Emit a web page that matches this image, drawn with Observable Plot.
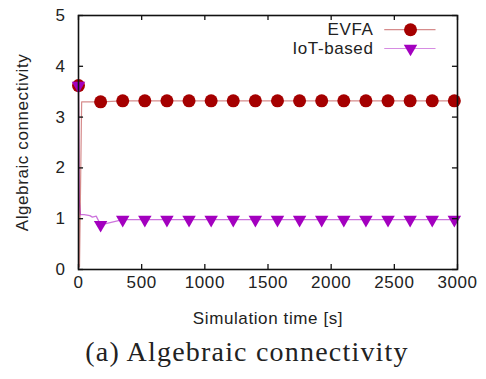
<!DOCTYPE html>
<html>
<head>
<meta charset="utf-8">
<script src="https://cdn.jsdelivr.net/npm/d3@7"></script>
<script src="https://cdn.jsdelivr.net/npm/@observablehq/plot@0.6"></script>
<style>
  body { margin: 0; background: #fff; width: 486px; height: 379px; position: relative; overflow: hidden; }
  #chart { position: absolute; left: 0; top: 0; }
  #caption { position: absolute; left: 0; top: 336px; width: 486px; text-align: center; padding-left: 8px; box-sizing: border-box;
    font-family: "Liberation Serif", "Times New Roman", serif; font-size: 28px; line-height: 31px; letter-spacing: 1.2px; color: #222; }
</style>
</head>
<body>
<div id="chart"></div>
<div id="caption">(a) Algebraic connectivity</div>
<script>
// ---- data ----
const seriesNames = ["EVFA", "IoT-based"];
const markerTimes = [0, 175, 350, 525, 700, 875, 1050, 1225, 1400, 1575, 1750, 1925, 2100, 2275, 2450, 2625, 2800, 2975];
const evfaMarkers = [3.62, 3.30, 3.32, 3.32, 3.32, 3.32, 3.32, 3.32, 3.32, 3.32, 3.32, 3.32, 3.32, 3.32, 3.32, 3.32, 3.32, 3.32];
const iotMarkers  = [3.62, 0.88, 0.98, 0.98, 0.98, 0.98, 0.98, 0.98, 0.98, 0.98, 0.98, 0.98, 0.98, 0.98, 0.98, 0.98, 0.98, 0.98];
// transient samples of the lines (start of simulation)
const evfaLineTimes = [0, 8, 25, 175, 350, 3000];
const evfaLineValues = [3.62, 0.05, 3.30, 3.30, 3.32, 3.32];
const iotLineTimes = [0, 6, 15, 45, 90, 110, 140, 175, 350, 3000];
const iotLineValues = [3.62, 1.35, 1.08, 1.08, 1.06, 1.03, 1.05, 0.88, 0.98, 0.98];
const xTicks = [0, 500, 1000, 1500, 2000, 2500, 3000];
const yTicks = [0, 1, 2, 3, 4, 5];
const xLabel = "Simulation time [s]";
const yLabel = "Algebraic connectivity";

// ---- styles ----
const evfaColor = "#a50000";
const iotColor = "#a300bf";

const evfaPts = markerTimes.map((t, i) => ({t, v: evfaMarkers[i]}));
const iotPts = markerTimes.map((t, i) => ({t, v: iotMarkers[i]}));
const evfaLine = evfaLineTimes.map((t, i) => ({t, v: evfaLineValues[i]}));
const iotLine = iotLineTimes.map((t, i) => ({t, v: iotLineValues[i]}));

// legend (placed in data space in the top-right corner)
const legend = [
  {name: seriesNames[0], y: 4.72, color: evfaColor},
  {name: seriesNames[1], y: 4.35, color: iotColor}
];
const legTextX = 2335, legLineX1 = 2420, legLineX2 = 2826, legMarkX = 2628;

const chart = Plot.plot({
  width: 486,
  height: 330,
  marginLeft: 78,
  marginRight: 29,
  marginTop: 15,
  marginBottom: 61,
  style: {fontFamily: "'Liberation Sans', Arial, sans-serif", fontSize: "17px", letterSpacing: "0.6px", color: "#222", background: "#fff"},
  x: {domain: [0, 3000]},
  y: {domain: [0, 5]},
  marks: [
    // lines
    Plot.line(evfaLine, {x: "t", y: "v", stroke: evfaColor, strokeOpacity: 0.45, strokeWidth: 1.2}),
    Plot.line(iotLine, {x: "t", y: "v", stroke: iotColor, strokeOpacity: 0.55, strokeWidth: 1.3}),
    // markers
    Plot.dot(evfaPts, {x: "t", y: "v", r: 6.5, fill: evfaColor, stroke: null}),
    Plot.dot(iotPts, {x: "t", y: "v", r: 5, symbol: "triangle", rotate: 180, fill: iotColor, stroke: null}),
    // inward ticks (gnuplot-style, mirrored)
    Plot.ruleX(xTicks, {x: d => d, y1: 0, y2: 0.1, stroke: "#111", strokeWidth: 1.3}),
    Plot.ruleX(xTicks, {x: d => d, y1: 5, y2: 4.9, stroke: "#111", strokeWidth: 1.3}),
    Plot.ruleY(yTicks, {y: d => d, x1: 0, x2: 40, stroke: "#111", strokeWidth: 1.3}),
    Plot.ruleY(yTicks, {y: d => d, x1: 3000, x2: 2960, stroke: "#111", strokeWidth: 1.3}),
    Plot.frame({stroke: "#111", strokeWidth: 1.6}),
    // axes
    Plot.axisX({ticks: xTicks, tickSize: 0, tickPadding: 6, label: null, tickFormat: d => String(d), fill: "#222"}),
    Plot.axisY({ticks: yTicks, tickSize: 0, tickPadding: 13, label: null, tickFormat: d => String(d), fill: "#222"}),
    Plot.text([xLabel], {text: d => d, frameAnchor: "bottom", dy: 49, textAnchor: "middle", lineAnchor: "middle", fill: "#222"}),
    Plot.text([yLabel], {text: d => d, frameAnchor: "left", dx: -56, rotate: -90, textAnchor: "middle", lineAnchor: "middle", fill: "#222"}),
    // legend
    Plot.text(legend, {x: () => legTextX, y: "y", text: "name", textAnchor: "end", lineAnchor: "middle", fill: "#222"}),
    Plot.link(legend, {x1: () => legLineX1, x2: () => legLineX2, y1: "y", y2: "y", stroke: "color", strokeOpacity: 0.45, strokeWidth: 1.2}),
    Plot.dot(legend.slice(0, 1), {x: () => legMarkX, y: "y", r: 6.5, fill: "color", stroke: null}),
    Plot.dot(legend.slice(1), {x: () => legMarkX, y: "y", r: 5, symbol: "triangle", rotate: 180, fill: "color", stroke: null})
  ]
});
document.getElementById("chart").appendChild(chart);
</script>
</body>
</html>
